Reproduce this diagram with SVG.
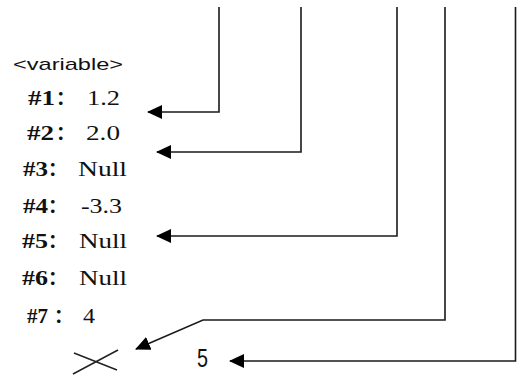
<svg xmlns="http://www.w3.org/2000/svg" width="517" height="382" viewBox="0 0 517 382">
<style>
.conn{fill:none;stroke:#1a1a1a;stroke-width:1.6;}
.lbl{font-family:"Liberation Serif","Noto Sans CJK SC",serif;font-size:21px;fill:#111;}
.b{font-weight:bold;}
.cjk{font-family:"Noto Sans CJK SC","Liberation Serif",serif;font-weight:bold;font-size:19px;}
.sans{font-family:"Liberation Sans",Arial,sans-serif;fill:#111;}
</style>
<defs>
<marker id="ah" markerUnits="userSpaceOnUse" viewBox="0 0 15 14" refX="14" refY="7" markerWidth="15" markerHeight="14" orient="auto">
<path d="M0,0 L15,7 L0,14 z" fill="#000"/>
</marker>
</defs>
<rect width="517" height="382" fill="#fff"/>
<g id="title"><text class="sans" x="13" y="70" font-size="17" textLength="110" lengthAdjust="spacingAndGlyphs">&lt;variable&gt;</text></g>
<g id="v1"><text class="lbl" y="105"><tspan class="b" x="28" textLength="27" lengthAdjust="spacingAndGlyphs">#1</tspan><tspan class="cjk" x="56">：</tspan><tspan x="87" textLength="33" lengthAdjust="spacingAndGlyphs">1.2</tspan></text></g>
<g id="v2"><text class="lbl" y="140"><tspan class="b" x="27" textLength="27" lengthAdjust="spacingAndGlyphs">#2</tspan><tspan class="cjk" x="56">：</tspan><tspan x="86" textLength="34" lengthAdjust="spacingAndGlyphs">2.0</tspan></text></g>
<g id="v3"><text class="lbl" y="176"><tspan class="b" x="23" textLength="25" lengthAdjust="spacingAndGlyphs">#3</tspan><tspan class="cjk" x="48">：</tspan><tspan x="78" textLength="49" lengthAdjust="spacingAndGlyphs">Null</tspan></text></g>
<g id="v4"><text class="lbl" y="213"><tspan class="b" x="23" textLength="25" lengthAdjust="spacingAndGlyphs">#4</tspan><tspan class="cjk" x="48">：</tspan><tspan x="81" textLength="41" lengthAdjust="spacingAndGlyphs">-3.3</tspan></text></g>
<g id="v5"><text class="lbl" y="248"><tspan class="b" x="22" textLength="26" lengthAdjust="spacingAndGlyphs">#5</tspan><tspan class="cjk" x="48">：</tspan><tspan x="79" textLength="48" lengthAdjust="spacingAndGlyphs">Null</tspan></text></g>
<g id="v6"><text class="lbl" y="285"><tspan class="b" x="22" textLength="26" lengthAdjust="spacingAndGlyphs">#6</tspan><tspan class="cjk" x="48">：</tspan><tspan x="79" textLength="48" lengthAdjust="spacingAndGlyphs">Null</tspan></text></g>
<g id="v7"><text class="lbl" y="323"><tspan class="b" x="27" textLength="21" lengthAdjust="spacingAndGlyphs">#7</tspan><tspan class="cjk" x="54">：</tspan><tspan x="83" textLength="12" lengthAdjust="spacingAndGlyphs">4</tspan></text></g>
<g id="cross"><path d="M74,353 L117,370 M73,374 L118,350" fill="none" stroke="#222" stroke-width="1.5"/></g>
<g id="five"><text class="sans" x="197" y="367" font-size="25" textLength="11" lengthAdjust="spacingAndGlyphs">5</text></g>
<g id="connectors">
<path class="conn" d="M219,7 V112 H148" marker-end="url(#ah)"/>
<path class="conn" d="M301,7 V152 H157" marker-end="url(#ah)"/>
<path class="conn" d="M397,7 V236 H157" marker-end="url(#ah)"/>
<path class="conn" d="M445,7 V320 H203 L136,349" marker-end="url(#ah)"/>
<path class="conn" d="M515.5,7 V361 H230" marker-end="url(#ah)"/>
</g>
</svg>
